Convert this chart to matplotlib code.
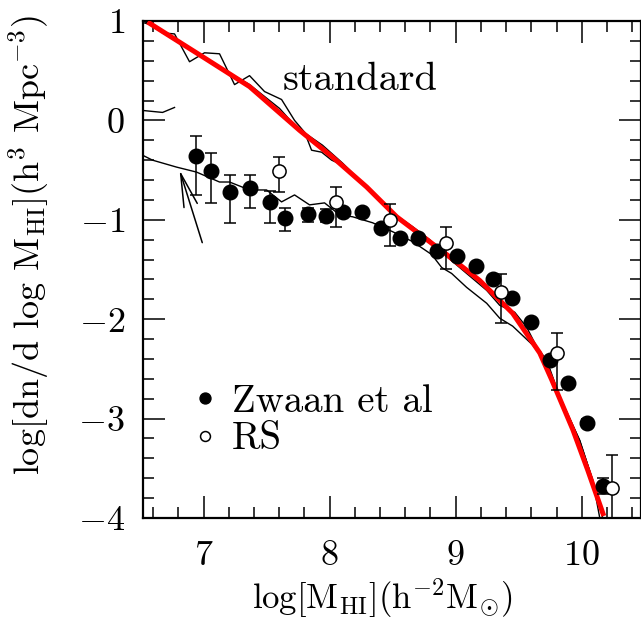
import numpy as np
import matplotlib
matplotlib.use('Agg')
import matplotlib.pyplot as plt
from matplotlib.ticker import MultipleLocator

plt.rcParams['font.family'] = 'serif'
plt.rcParams['font.serif'] = ['cmr10', 'DejaVu Serif']
plt.rcParams['mathtext.fontset'] = 'cm'
plt.rcParams['axes.formatter.use_mathtext'] = True

# Zwaan et al (filled circles)
zw_x = [6.94, 7.06, 7.21, 7.37, 7.53, 7.65, 7.83, 7.97, 8.11, 8.26, 8.41,
        8.56, 8.70, 8.85, 9.01, 9.16, 9.30, 9.45, 9.60, 9.75, 9.89, 10.04, 10.17]
zw_y = [-0.36, -0.51, -0.72, -0.68, -0.82, -0.98, -0.94, -0.96, -0.92, -0.92, -1.08,
        -1.18, -1.18, -1.31, -1.36, -1.47, -1.60, -1.79, -2.03, -2.41, -2.64, -3.04, -3.68]
zw_lo = [0.39, 0.32, 0.31, 0.20, 0.21, 0.13, 0.08, 0.06, 0.04, 0.03, 0.04,
         0.03, 0.03, 0.03, 0.03, 0.03, 0.03, 0.03, 0.03, 0.03, 0.03, 0.04, 0.08]
zw_hi = [0.20, 0.18, 0.17, 0.13, 0.11, 0.10, 0.06, 0.07, 0.04, 0.03, 0.04,
         0.03, 0.03, 0.03, 0.03, 0.03, 0.03, 0.03, 0.03, 0.03, 0.03, 0.04, 0.08]

# RS (open circles)
rs_x = [7.60, 8.05, 8.48, 8.92, 9.36, 9.80, 10.24]
rs_y = [-0.51, -0.82, -1.00, -1.23, -1.73, -2.34, -3.70]
rs_lo = [0.21, 0.25, 0.26, 0.27, 0.31, 0.37, 0.35]
rs_hi = [0.14, 0.15, 0.16, 0.16, 0.18, 0.20, 0.33]

# model curves
red_x = [6.556, 6.968, 7.365, 7.762, 8.024, 8.294, 8.532, 8.929, 9.190, 9.452,
         9.667, 9.762, 9.929, 10.048, 10.175]
red_y = [0.99, 0.66, 0.34, -0.10, -0.37, -0.67, -0.97, -1.35, -1.61, -1.94,
         -2.34, -2.61, -3.11, -3.52, -3.98]

s1_x = [6.532, 6.595, 6.675, 6.770, 6.889, 7.008, 7.127, 7.246, 7.365, 7.484,
        7.619, 7.722, 7.802, 7.857, 7.937, 8.016, 8.103]
s1_y = [0.98, 0.96, 0.88, 0.87, 0.59, 0.68, 0.67, 0.36, 0.45, 0.29,
        0.21, 0.00, -0.12, -0.30, -0.32, -0.40, -0.45]

s2_x = [6.540, 6.968, 7.365, 7.603, 7.738, 7.944, 8.103, 8.373, 8.500, 8.659,
        8.794, 8.929, 9.087, 9.246, 9.349, 9.468, 9.563, 9.643, 9.722, 9.825,
        9.984, 10.087, 10.167]
s2_y = [0.99, 0.65, 0.36, 0.12, -0.07, -0.25, -0.43, -0.77, -0.93, -1.07,
        -1.20, -1.37, -1.54, -1.71, -1.86, -1.93, -2.08, -2.28, -2.41, -2.78,
        -3.22, -3.62, -4.00]

low_x = [6.516, 6.595, 6.786, 6.944, 7.127, 7.206, 7.365, 7.500, 7.619, 7.722,
         7.841, 7.960, 8.079, 8.183, 8.341, 8.500, 8.659, 8.810, 8.889, 8.968,
         9.087, 9.246, 9.349, 9.452, 9.611, 9.730, 9.825, 9.984, 10.087, 10.143]
low_y = [-0.35, -0.40, -0.47, -0.52, -0.62, -0.62, -0.70, -0.70, -0.82, -0.75,
         -0.85, -0.83, -0.95, -0.97, -1.03, -1.12, -1.22, -1.35, -1.48, -1.54,
         -1.68, -1.84, -1.99, -2.07, -2.26, -2.46, -2.78, -3.22, -3.62, -4.00]

stub_x = [6.516, 6.675, 6.770]
stub_y = [0.10, 0.08, 0.13]

fig = plt.figure(figsize=(6.41, 6.19), dpi=100)
ax = fig.add_axes([0.2231, 0.1632, 0.7769, 0.8029])

ax.plot(s1_x, s1_y, color='black', lw=1.0)
ax.plot(s2_x, s2_y, color='black', lw=1.0)
ax.plot(low_x, low_y, color='black', lw=1.0)
ax.plot(stub_x, stub_y, color='black', lw=1.0)
ax.plot(red_x, red_y, color='red', lw=3.6, solid_capstyle='butt', zorder=3)

ax.errorbar(zw_x, zw_y, yerr=[zw_lo, zw_hi], fmt='o', color='black', ms=10.5,
            capsize=4.5, elinewidth=1.1, capthick=1.1, zorder=4, label='Zwaan et al')
ax.errorbar(rs_x, rs_y, yerr=[rs_lo, rs_hi], fmt='o', mfc='white', mec='black',
            color='black', ms=9.5, mew=1.1, capsize=4.5, elinewidth=1.1,
            capthick=1.1, zorder=4, label='RS')

ax.annotate('', xy=(6.81, -0.50), xytext=(6.99, -1.23),
            arrowprops=dict(arrowstyle='->,head_length=2.4,head_width=0.5',
                            mutation_scale=10, lw=1.1, color='black',
                            shrinkA=0, shrinkB=0))

ax.text(7.63, 0.41, 'standard', fontsize=29, va='center', ha='left')

handles, labels = ax.get_legend_handles_labels()
handles = [h[0] for h in handles]
leg = ax.legend(handles, labels, loc='center left', bbox_to_anchor=(0.062, 0.196),
                frameon=False, fontsize=28, handlelength=0.6, handletextpad=0.4,
                labelspacing=0.05, markerscale=0.75, borderpad=0)

ax.set_xlim(6.52, 10.47)
ax.set_ylim(-4, 1)
ax.xaxis.set_major_locator(MultipleLocator(1))
ax.xaxis.set_minor_locator(MultipleLocator(0.2))
ax.yaxis.set_major_locator(MultipleLocator(1))
ax.yaxis.set_minor_locator(MultipleLocator(0.2))
ax.tick_params(which='both', direction='in', top=True, right=True, width=1.1,
               labelsize=26)
ax.tick_params(which='major', length=15.8)
ax.tick_params(which='minor', length=7.9)
ax.tick_params(axis='x', pad=16)
ax.tick_params(axis='y', pad=13)
for sp in ax.spines.values():
    sp.set_linewidth(1.6)

ax.set_xlabel(r'log[M$_{\rm HI}$](h$^{-2}$M$_{\odot}$)', fontsize=25)
ax.set_ylabel(r'log[dn/d log M$_{\rm HI}$](h$^3$ Mpc$^{-3}$)', fontsize=26)
ax.xaxis.set_label_coords(0.48, -0.118)
ax.yaxis.set_label_coords(-0.185, 0.55)

fig.savefig('out.png', dpi=100)
